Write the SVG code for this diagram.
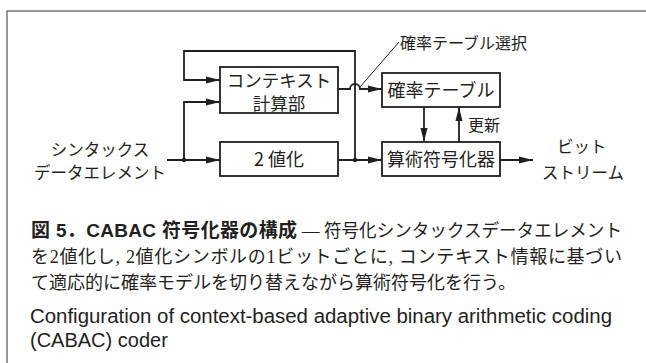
<svg xmlns="http://www.w3.org/2000/svg" width="646" height="363" viewBox="0 0 646 363">
<style>
.box{fill:#fff;stroke:#231f20;stroke-width:1.8}
.ln{fill:none;stroke:#231f20;stroke-width:1.8}
.thin{fill:none;stroke:#231f20;stroke-width:1}
.lbl{font-family:"Noto Sans CJK JP","Liberation Sans",sans-serif;fill:#231f20}
.cap{font-family:"Liberation Serif","Noto Sans CJK JP",serif;font-size:18px;fill:#231f20}
.ttl{font-family:"Liberation Sans","Noto Sans CJK JP",sans-serif;font-size:19px;font-weight:bold;fill:#231f20}
.en{font-family:"Liberation Sans",sans-serif;font-size:20px;fill:#231f20}
</style>
<defs>
<marker id="ah" markerUnits="userSpaceOnUse" markerWidth="14" markerHeight="8" refX="14" refY="4" orient="auto">
<path d="M0,0.5 L14,4 L0,7.5 z" fill="#231f20"/>
</marker>
</defs>
<rect x="7" y="11" width="660" height="380" fill="none" stroke="#777" stroke-width="1.5"/>
<g id="connectors">
<path class="ln" d="M167,160 H220" marker-end="url(#ah)"/>
<path class="ln" d="M184,160 V102 H220" marker-end="url(#ah)"/>
<path class="ln" d="M355,160 V51 H184 V80 H220" marker-end="url(#ah)"/>
<path class="ln" d="M338,160 H382" marker-end="url(#ah)"/>
<path class="ln" d="M338,89 H350 A5,5 0 0 1 360,89 H382" marker-end="url(#ah)"/>
<path class="thin" d="M360,87 L399,42"/>
<path class="ln" d="M424,107 V142" marker-end="url(#ah)"/>
<path class="ln" d="M459,142 V107" marker-end="url(#ah)"/>
<path class="ln" d="M500,160 H533" marker-end="url(#ah)"/>
<circle cx="184" cy="160" r="2.2" fill="#231f20"/>
<circle cx="355" cy="160" r="2.2" fill="#231f20"/>
</g>
<g id="input">
<text class="lbl" x="100" y="156" font-size="16.5" text-anchor="middle">シンタックス</text>
<text class="lbl" x="100" y="179" font-size="16.5" text-anchor="middle">データエレメント</text>
</g>
<g id="context">
<rect class="box" x="220" y="67" width="118" height="46"/>
<text class="lbl" x="279" y="86.5" font-size="17.5" text-anchor="middle">コンテキスト</text>
<text class="lbl" x="279" y="109.5" font-size="17.5" text-anchor="middle">計算部</text>
</g>
<g id="binarize">
<rect class="box" x="220" y="142" width="118" height="34"/>
<text class="lbl" x="279" y="166" font-size="18" text-anchor="middle">2 値化</text>
</g>
<g id="table">
<rect class="box" x="382" y="73" width="118" height="34"/>
<text class="lbl" x="441" y="97" font-size="18" text-anchor="middle">確率テーブル</text>
</g>
<g id="coder">
<rect class="box" x="382" y="142" width="118" height="34"/>
<text class="lbl" x="441" y="166" font-size="18" text-anchor="middle">算術符号化器</text>
</g>
<g id="labels">
<text class="lbl" x="400" y="49" font-size="16">確率テーブル選択</text>
<text class="lbl" x="468" y="131" font-size="16">更新</text>
</g>
<g id="output">
<text class="lbl" x="557" y="153" font-size="16.5">ビット</text>
<text class="lbl" x="542" y="179" font-size="16.5">ストリーム</text>
</g>
<g id="caption">
<text class="ttl" x="31" y="237" textLength="266" lengthAdjust="spacing">図 5．CABAC 符号化器の構成</text>
<text class="cap" x="302" y="237" textLength="320" lengthAdjust="spacingAndGlyphs">— 符号化シンタックスデータエレメント</text>
<text class="cap" x="31" y="263" textLength="591" lengthAdjust="spacing">を2値化し, 2値化シンボルの1ビットごとに, コンテキスト情報に基づい</text>
<text class="cap" x="31" y="289">て適応的に確率モデルを切り替えながら算術符号化を行う。</text>
<text class="en" x="30" y="323" textLength="582" lengthAdjust="spacingAndGlyphs">Configuration of context-based adaptive binary arithmetic coding</text>
<text class="en" x="30" y="347">(CABAC) coder</text>
</g>
</svg>
